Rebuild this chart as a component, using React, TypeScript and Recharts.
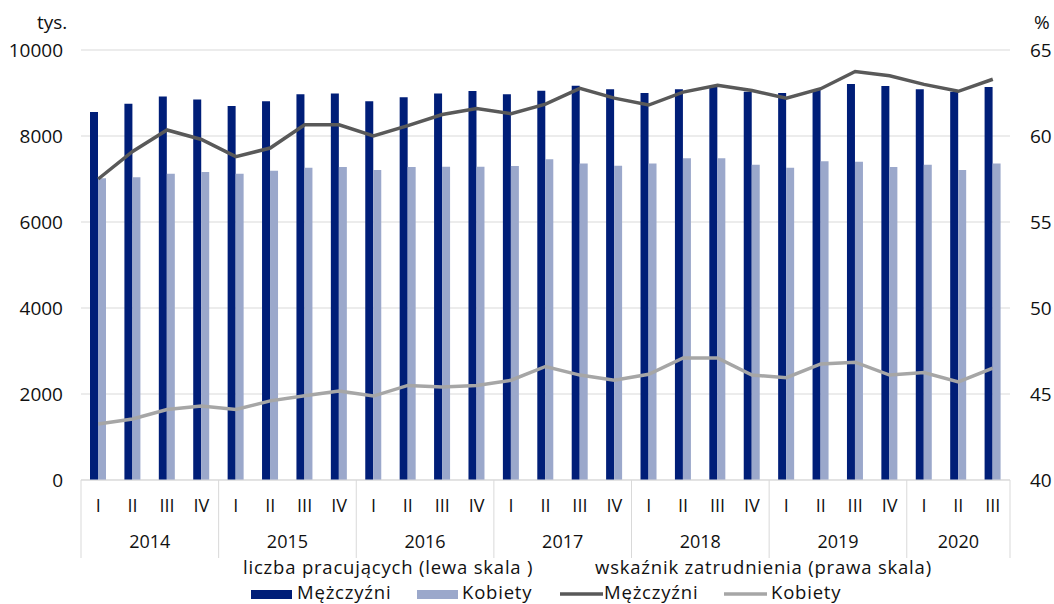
import React from "react";
import {
  ComposedChart,
  Bar,
  Line,
  XAxis,
  YAxis,
  CartesianGrid,
} from "recharts";

// kwartały i lata (oś X dwupoziomowa)
const quarters = [
  "I", "II", "III", "IV",
  "I", "II", "III", "IV",
  "I", "II", "III", "IV",
  "I", "II", "III", "IV",
  "I", "II", "III", "IV",
  "I", "II", "III", "IV",
  "I", "II", "III",
];
const years = [
  2014, 2014, 2014, 2014,
  2015, 2015, 2015, 2015,
  2016, 2016, 2016, 2016,
  2017, 2017, 2017, 2017,
  2018, 2018, 2018, 2018,
  2019, 2019, 2019, 2019,
  2020, 2020, 2020,
];

// liczba pracujących, tys. (lewa skala)
const menEmployed = [
  8560, 8750, 8920, 8850, 8700, 8810, 8970, 8990, 8810, 8900, 8990, 9045,
  8970, 9050, 9170, 9090, 9000, 9090, 9150, 9030, 9000, 9070, 9210, 9160,
  9090, 9030, 9140,
];
const womenEmployed = [
  7020, 7040, 7120, 7160, 7120, 7190, 7260, 7280, 7210, 7280, 7285, 7285,
  7305, 7460, 7360, 7310, 7360, 7480, 7480, 7330, 7260, 7410, 7400, 7280,
  7330, 7210, 7360,
];

// wskaźnik zatrudnienia, % (prawa skala)
const menRate = [
  57.5, 59.1, 60.35, 59.8, 58.8, 59.3, 60.65, 60.65, 60.0, 60.6, 61.25, 61.6,
  61.3, 61.85, 62.77, 62.2, 61.8, 62.55, 62.95, 62.64, 62.2, 62.75, 63.75,
  63.5, 63.0, 62.6, 63.3,
];
const womenRate = [
  43.25, 43.55, 44.1, 44.3, 44.1, 44.6, 44.9, 45.17, 44.88, 45.5, 45.4, 45.5,
  45.8, 46.6, 46.1, 45.8, 46.15, 47.1, 47.1, 46.1, 45.95, 46.75, 46.85, 46.1,
  46.25, 45.7, 46.5,
];

const leftTicks = [0, 2000, 4000, 6000, 8000, 10000];
const rightTicks = [40, 45, 50, 55, 60, 65];

const data = quarters.map((q, i) => ({
  id: `${years[i]}-${q}`,
  menEmp: menEmployed[i],
  womenEmp: womenEmployed[i],
  menRate: menRate[i],
  womenRate: womenRate[i],
}));

const W = 1054;
const H = 604;
const PLOT_LEFT = 81;
const PLOT_RIGHT = 1010;
const PLOT_TOP = 50;
const PLOT_BOTTOM = 480;
const BAND = (PLOT_RIGHT - PLOT_LEFT) / quarters.length;

const FONT = "'Open Sans', sans-serif";
const TEXT = "#111";
const GRID = "#D9D9D9";
const NAVY = "#001E78";
const LIGHT = "#9BA8CB";
const DARK_LINE = "#595959";
const LIGHT_LINE = "#A6A6A6";

const QuarterTick = (props: any) => {
  const { x, index, payload } = props;
  const i = index ?? payload.index;
  const yr = years[i];
  const first = i === 0 || years[i - 1] !== yr;
  const last = i === quarters.length - 1;
  const n = years.filter((v) => v === yr).length;
  return (
    <g>
      <text
        x={x}
        y={512}
        textAnchor="middle"
        fontSize={18}
        fontFamily={FONT}
        fill={TEXT}
      >
        {quarters[i]}
      </text>
      {first && (
        <text
          x={x + ((n - 1) * BAND) / 2}
          y={548}
          textAnchor="middle"
          fontSize={18}
          fontFamily={FONT}
          fill={TEXT}
        >
          {yr}
        </text>
      )}
      {first && (
        <line
          x1={x - BAND / 2}
          x2={x - BAND / 2}
          y1={PLOT_BOTTOM}
          y2={558}
          stroke={GRID}
        />
      )}
      {last && (
        <line
          x1={x + BAND / 2}
          x2={x + BAND / 2}
          y1={PLOT_BOTTOM}
          y2={558}
          stroke={GRID}
        />
      )}
    </g>
  );
};

const tickStyle = { fill: TEXT, fontSize: 19, fontFamily: FONT };
const legendText = { fontSize: 18.5, letterSpacing: 0.8 };

const App: React.FC = () => {
  return (
    <div
      style={{
        position: "absolute",
        left: 0,
        top: 0,
        width: W,
        height: H,
        background: "#fff",
      }}
    >
      <ComposedChart
        width={W}
        height={H}
        data={data}
        margin={{ top: PLOT_TOP, right: 0, left: 0, bottom: 0 }}
        barGap={0}
      >
        <CartesianGrid vertical={false} stroke={GRID} yAxisId="left" />
        <XAxis
          dataKey="id"
          interval={0}
          height={H - PLOT_BOTTOM}
          tickLine={false}
          tickSize={0}
          tickMargin={0}
          axisLine={{ stroke: GRID }}
          tick={<QuarterTick />}
        />
        <YAxis
          yAxisId="left"
          orientation="left"
          width={PLOT_LEFT}
          domain={[0, 10000]}
          ticks={leftTicks}
          axisLine={false}
          tickLine={false}
          tickMargin={12}
          tick={tickStyle}
        />
        <YAxis
          yAxisId="right"
          orientation="right"
          width={W - PLOT_RIGHT}
          domain={[40, 65]}
          ticks={rightTicks}
          axisLine={false}
          tickLine={false}
          tickMargin={14}
          tick={tickStyle}
        />
        <Bar
          yAxisId="left"
          dataKey="menEmp"
          fill={NAVY}
          barSize={8}
          isAnimationActive={false}
        />
        <Bar
          yAxisId="left"
          dataKey="womenEmp"
          fill={LIGHT}
          barSize={8}
          isAnimationActive={false}
        />
        <Line
          yAxisId="right"
          type="linear"
          dataKey="menRate"
          stroke={DARK_LINE}
          strokeWidth={3.5}
          dot={false}
          isAnimationActive={false}
        />
        <Line
          yAxisId="right"
          type="linear"
          dataKey="womenRate"
          stroke={LIGHT_LINE}
          strokeWidth={3.5}
          dot={false}
          isAnimationActive={false}
        />
      </ComposedChart>

      {/* tytuły osi i legenda */}
      <svg
        width={W}
        height={H}
        style={{ position: "absolute", left: 0, top: 0, pointerEvents: "none" }}
        fontFamily={FONT}
        fill={TEXT}
      >
        <text x={37} y={29} fontSize={19}>
          tys.
        </text>
        <text x={1034} y={29} fontSize={19}>
          %
        </text>

        <text x={243} y={573.5} {...legendText}>
          liczba pracujących (lewa skala )
        </text>
        <text x={595} y={573.5} {...legendText}>
          wskaźnik zatrudnienia (prawa skala)
        </text>

        <rect x={251} y={590} width={41} height={9} fill={NAVY} />
        <text x={297} y={598.5} {...legendText}>
          Mężczyźni
        </text>
        <rect x={417} y={590} width={41} height={9} fill={LIGHT} />
        <text x={462} y={598.5} {...legendText}>
          Kobiety
        </text>
        <line x1={560} x2={603} y1={594} y2={594} stroke={DARK_LINE} strokeWidth={3.5} />
        <text x={604} y={598.5} {...legendText}>
          Mężczyźni
        </text>
        <line x1={724} x2={767} y1={594} y2={594} stroke={LIGHT_LINE} strokeWidth={3.5} />
        <text x={771} y={598.5} {...legendText}>
          Kobiety
        </text>
      </svg>
    </div>
  );
};

export default App;
